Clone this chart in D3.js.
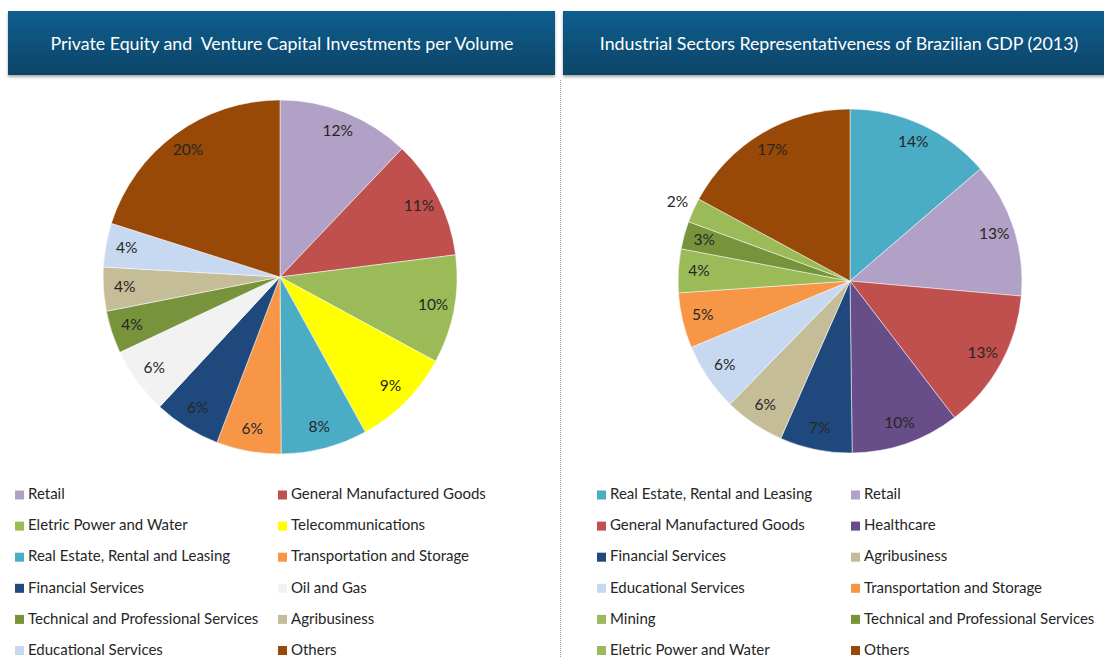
<!DOCTYPE html>
<html>
<head>
<meta charset="utf-8">
<script src="https://cdn.jsdelivr.net/npm/d3@7"></script>
<style>
  body { margin: 0; background: #fff; }
  svg { display: block; font-family: Lato, "Open Sans", sans-serif; }
</style>
</head>
<body>
<div id="chart"></div>
<script>
// left chart: PE / VC investments per volume
const leftTitle = "Private Equity and\u00a0 Venture Capital Investments per Volume";
const leftCategories = ["Retail", "General Manufactured Goods", "Eletric Power and Water", "Telecommunications",
  "Real Estate, Rental and Leasing", "Transportation and Storage", "Financial Services", "Oil and Gas",
  "Technical and Professional Services", "Agribusiness", "Educational Services", "Others"];
const leftValues = [12.1, 10.9, 9.9, 9.1, 7.9, 5.9, 6.1, 6.1, 3.9, 4.0, 4.0, 20.1];

// right chart: sector share of GDP 2013
const rightTitle = "Industrial Sectors Representativeness of Brazilian GDP (2013)";
const rightCategories = ["Real Estate, Rental and Leasing", "Retail", "General Manufactured Goods", "Healthcare",
  "Financial Services", "Agribusiness", "Educational Services", "Transportation and Storage",
  "Mining", "Technical and Professional Services", "Eletric Power and Water", "Others"];
const rightValues = [13.7, 12.7, 13.2, 10.2, 6.8, 5.7, 6.4, 5.2, 4.1, 2.6, 2.3, 17.1];

const colors = {
  "Retail": "#B2A1C7",
  "General Manufactured Goods": "#C0504D",
  "Eletric Power and Water": "#9BBB59",
  "Telecommunications": "#FFFF00",
  "Real Estate, Rental and Leasing": "#4BACC6",
  "Transportation and Storage": "#F79646",
  "Financial Services": "#1F497D",
  "Oil and Gas": "#F2F2F2",
  "Technical and Professional Services": "#77933C",
  "Agribusiness": "#C4BD97",
  "Educational Services": "#C6D9F1",
  "Others": "#984807",
  "Healthcare": "#684E88",
  "Mining": "#9BBB59"
};

const W = 1104, H = 657;
const svg = d3.select("#chart").append("svg").attr("width", W).attr("height", H);

const defs = svg.append("defs");
const grad = defs.append("linearGradient").attr("id", "hdr").attr("x1", 0).attr("y1", 0).attr("x2", 0).attr("y2", 1);
grad.append("stop").attr("offset", "0%").attr("stop-color", "#0F5F8F");
grad.append("stop").attr("offset", "100%").attr("stop-color", "#0A4467");
const shadow = defs.append("filter").attr("id", "shadow").attr("x", "-5%").attr("y", "-20%").attr("width", "110%").attr("height", "150%");
shadow.append("feDropShadow").attr("dx", 0).attr("dy", 2).attr("stdDeviation", 1.5).attr("flood-color", "#000").attr("flood-opacity", 0.35);

// separator
svg.append("line")
  .attr("x1", 560.5).attr("x2", 560.5).attr("y1", 80).attr("y2", H)
  .attr("stroke", "#9a9a9a").attr("stroke-width", 1).attr("stroke-dasharray", "1,1");

function header(x, w, text, cx) {
  svg.append("rect")
    .attr("x", x).attr("y", 11).attr("width", w).attr("height", 64)
    .attr("fill", "url(#hdr)").attr("filter", "url(#shadow)");
  svg.append("text")
    .attr("x", cx).attr("y", 45)
    .attr("text-anchor", "middle").attr("dominant-baseline", "middle")
    .attr("fill", "#fff").style("font-size", "17.8px")
    .text(text);
}

function drawPie(cats, vals, cx, cy, r, outside) {
  const data = cats.map((c, i) => ({ name: c, value: vals[i] }));
  const pie = d3.pie().sort(null).value(d => d.value);
  const arc = d3.arc().innerRadius(0).outerRadius(r);
  const arcs = pie(data);
  const g = svg.append("g").attr("transform", `translate(${cx},${cy})`);

  g.selectAll("path")
    .data(arcs)
    .enter()
    .append("path")
    .attr("d", arc)
    .attr("fill", d => colors[d.data.name])
    .attr("stroke", "#fff")
    .attr("stroke-width", 0.5);

  g.selectAll("text")
    .data(arcs)
    .enter()
    .append("text")
    .attr("transform", d => {
      const a = (d.startAngle + d.endAngle) / 2;
      const rr = outside.includes(d.data.name) ? r * 1.1 : r * 0.88;
      return `translate(${rr * Math.sin(a)},${-rr * Math.cos(a)})`;
    })
    .attr("text-anchor", "middle")
    .attr("dominant-baseline", "middle")
    .attr("fill", "#262626")
    .style("font-size", "15.5px")
    .text(d => Math.round(d.data.value) + "%");
}

function legend(cats, x1, x2, y0) {
  const g = svg.append("g");
  const items = g.selectAll("g")
    .data(cats)
    .enter()
    .append("g")
    .attr("transform", (d, i) => `translate(${i % 2 ? x2 : x1},${y0 + Math.floor(i / 2) * 31.1})`);
  items.append("rect")
    .attr("x", 0).attr("y", -4.5).attr("width", 9).attr("height", 9)
    .attr("fill", d => colors[d]);
  items.append("text")
    .attr("x", 13).attr("y", 0.5)
    .attr("dominant-baseline", "middle")
    .attr("fill", "#262626")
    .style("font-size", "15px")
    .text(d => d);
}

header(8, 547, leftTitle, 282);
header(563, 560, rightTitle, 839);

drawPie(leftCategories, leftValues, 280, 277, 177, []);
drawPie(rightCategories, rightValues, 850, 281, 172, ["Eletric Power and Water"]);

legend(leftCategories, 15, 278, 495);
legend(rightCategories, 597, 851, 495);
</script>
</body>
</html>
